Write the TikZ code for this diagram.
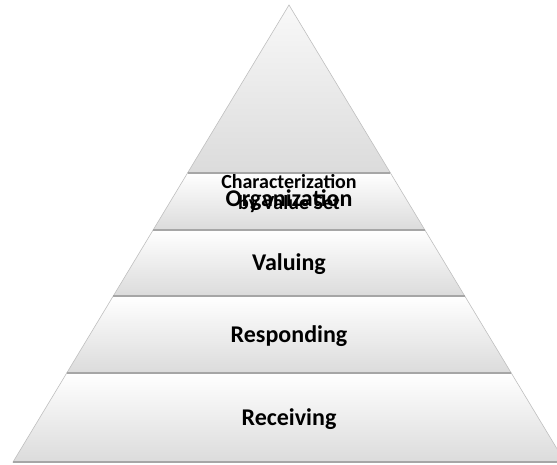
\documentclass[tikz,border=0pt]{standalone}
\usepackage{fontspec}
\setmainfont{Carlito}
\usetikzlibrary{calc}

\begin{document}
\begin{tikzpicture}[x=1pt, y=-1pt,
  band/.style = {top color=white, bottom color=gray!28, draw=gray!50, line width=0.6pt},
  tip/.style = {top color=gray!5, bottom color=gray!28, draw=gray!50, line width=0.6pt},
  rim/.style = {draw=gray!70, line width=1.2pt},
  lbl/.style = {font=\bfseries\fontsize{24}{26}\selectfont, align=center},
  small/.style = {font=\bfseries\fontsize{20}{21}\selectfont, align=center}]
\useasboundingbox (0,0) rectangle (557,465);
\coordinate (apex) at (289,5);
\coordinate (bl) at (13,462);
\coordinate (br) at (565,462);
% level edges
\coordinate (l1) at ($(apex)!0.3676!(bl)$);
\coordinate (r1) at ($(apex)!0.3676!(br)$);
\coordinate (l2) at ($(apex)!0.4923!(bl)$);
\coordinate (r2) at ($(apex)!0.4923!(br)$);
\coordinate (l3) at ($(apex)!0.6368!(bl)$);
\coordinate (r3) at ($(apex)!0.6368!(br)$);
\coordinate (l4) at ($(apex)!0.8053!(bl)$);
\coordinate (r4) at ($(apex)!0.8053!(br)$);

\path[tip] (apex) -- (r1) -- (l1) -- cycle;
\path[band] (l1) -- (r1) -- (r2) -- (l2) -- cycle;
\path[band] (l2) -- (r2) -- (r3) -- (l3) -- cycle;
\path[band] (l3) -- (r3) -- (r4) -- (l4) -- cycle;
\path[band] (l4) -- (r4) -- (br) -- (bl) -- cycle;
\draw[rim] (l1) -- (r1);
\draw[rim] (l2) -- (r2);
\draw[rim] (l3) -- (r3);
\draw[rim] (l4) -- (r4);
\draw[rim] (bl) -- (br);

\node[small] (char) at (289,194) {Characterization\\by Value Set};
\node[lbl] (org) at (289,200) {Organization};
\node[lbl] (val) at (289,264) {Valuing};
\node[lbl] (resp) at (289,336) {Responding};
\node[lbl] (recv) at (289,419) {Receiving};
\end{tikzpicture}
\end{document}
